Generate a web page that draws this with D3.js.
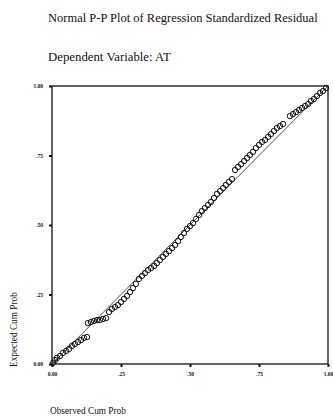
<!DOCTYPE html>
<html>
<head>
<meta charset="utf-8">
<script src="https://cdn.jsdelivr.net/npm/d3@7"></script>
<style>
  body { margin: 0; background: #fff; }
  svg text { font-family: "Liberation Serif", "Times New Roman", serif; fill: #111; }
</style>
</head>
<body>
<svg id="pp" width="333" height="417"></svg>
<script>
// observed vs expected cumulative probabilities
const observed = [.004, .011, .018, .029, .040, .051, .062, .072, .083, .094,
  .105, .116, .127, .130, .141, .152, .163, .174, .185, .196,
  .207, .217, .228, .239, .250, .261, .272, .283, .293, .304,
  .315, .326, .337, .348, .359, .370, .380, .391, .402, .413,
  .424, .435, .446, .457, .467, .478, .489, .500, .511, .522,
  .533, .543, .554, .565, .576, .587, .598, .609, .620, .630,
  .641, .652, .663, .674, .685, .696, .707, .717, .728, .739,
  .750, .761, .772, .783, .793, .804, .815, .826, .837, .862,
  .873, .884, .895, .906, .917, .928, .938, .949, .960, .971,
  .982, .993];
const expected = [.004, .014, .022, .029, .040, .047, .054, .065, .072, .079,
  .086, .094, .097, .147, .151, .155, .158, .158, .162, .165,
  .187, .198, .205, .212, .223, .234, .245, .259, .273, .288,
  .306, .317, .327, .338, .345, .353, .363, .374, .385, .396,
  .406, .417, .428, .442, .457, .471, .486, .496, .507, .522,
  .536, .550, .561, .572, .583, .597, .612, .622, .633, .644,
  .655, .665, .698, .709, .719, .730, .741, .752, .763, .777,
  .788, .799, .806, .817, .827, .838, .849, .856, .863, .892,
  .899, .906, .914, .921, .928, .935, .946, .953, .964, .975,
  .982, .993];
const ticks = [0, .25, .5, .75, 1];
const tickLabels = ["0.00", ".25", ".50", ".75", "1.00"];

const svg = d3.select("#pp");
const x = d3.scaleLinear().domain([0, 1]).range([52, 328]);
const y = d3.scaleLinear().domain([0, 1]).range([364, 86]);

svg.append("text").attr("x", 48).attr("y", 22)
  .attr("font-size", 12.5).text("Normal P-P Plot of Regression Standardized Residual");
svg.append("text").attr("x", 48).attr("y", 61)
  .attr("font-size", 12.8).text("Dependent Variable: AT");

// frame
svg.append("rect")
  .attr("x", x(0)).attr("y", y(1))
  .attr("width", x(1) - x(0)).attr("height", y(0) - y(1))
  .attr("fill", "none").attr("stroke", "#111").attr("stroke-width", 1.3);

const fmt = d => tickLabels[ticks.indexOf(d)];
const xAxis = svg.append("g")
  .attr("transform", `translate(0,${y(0)})`)
  .call(d3.axisBottom(x).tickValues(ticks).tickFormat(fmt).tickSize(3).tickPadding(5));
const yAxis = svg.append("g")
  .attr("transform", `translate(${x(0)},0)`)
  .call(d3.axisLeft(y).tickValues(ticks).tickFormat(fmt).tickSize(3).tickPadding(6));
[xAxis, yAxis].forEach(g => {
  g.select(".domain").remove();
  g.selectAll("line").attr("stroke", "#111").attr("stroke-width", 2);
  g.selectAll("text").attr("font-size", 5.5).attr("font-weight", "bold")
    .attr("font-family", "Liberation Serif, serif").attr("fill", "#111");
});

// reference diagonal
svg.append("line")
  .attr("x1", x(0)).attr("y1", y(0)).attr("x2", x(1)).attr("y2", y(1))
  .attr("stroke", "#222").attr("stroke-width", 0.8);

svg.append("g").selectAll("circle")
  .data(observed.map((o, i) => ({o, e: expected[i]})))
  .join("circle")
  .attr("cx", d => x(d.o)).attr("cy", d => y(d.e))
  .attr("r", 2.7)
  .attr("fill", "none").attr("stroke", "#111").attr("stroke-width", 1);

svg.append("text")
  .attr("transform", `translate(17,${y(0) + 3}) rotate(-90)`)
  .attr("font-size", 9.3).text("Expected Cum Prob");
svg.append("text").attr("x", 50).attr("y", 414)
  .attr("font-size", 9.3).text("Observed Cum Prob");
</script>
</body>
</html>
